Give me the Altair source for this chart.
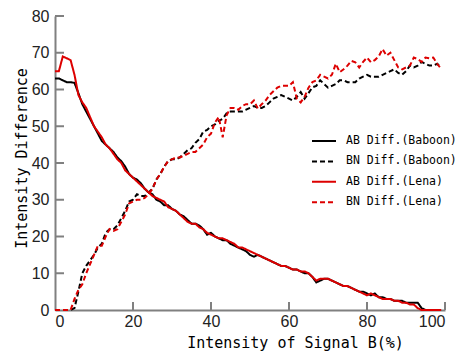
import altair as alt
import pandas as pd

X = list(range(100))

AB_BABOON = [63, 63, 62.5, 62, 62, 61.8, 59, 56, 54, 52,
             50, 48, 46, 45, 44, 43, 41.5, 40.5, 39, 37,
             36, 35.5, 34.5, 33, 32, 31.5, 30, 29.5, 28.5, 28.5,
             27.5, 27, 26, 25.5, 24.5, 23.5, 23.5, 23, 22, 20.5,
             21, 20, 19.5, 19, 19, 18, 17.5, 17, 16.5, 16,
             15, 14.5, 15, 14.5, 14, 13.5, 13, 12.5, 12, 12,
             11.5, 11, 11, 10.5, 10, 10, 9, 7.5, 8, 8.5,
             8.5, 8, 7.5, 7, 6.5, 6.5, 6, 5.5, 5, 5,
             4.5, 4, 4.5, 3.5, 3.5, 3, 3, 2.5, 2.5, 2.5,
             2, 2, 2, 2, 0.5, 0, 0, 0, 0, 0]

BN_BABOON = [0, 0, 0, 0, 0, 0.5, 5, 10, 12, 13.5,
             15, 17, 18, 21, 22, 22, 23, 25, 27, 29.5,
             30, 31.5, 31, 31, 32, 33, 35.5, 37, 39, 40.5,
             41, 41, 41.5, 42.5, 43.5, 44, 45.5, 46.5, 48.5, 49,
             50, 50.5, 51.5, 52, 53.5, 54, 54, 54, 54, 54.5,
             55, 55.5, 55, 55, 55.5, 56.5, 57.5, 58, 58.5, 58,
             57.5, 57, 58, 59.3, 57.5, 59, 60.6, 61, 62.5, 61.5,
             60.5, 61, 61.5, 62.5, 62.5, 62, 62, 62, 63, 63.5,
             64, 63.5, 63.5, 63.5, 64, 64.5, 65, 65.5, 64.5, 64,
             65, 66.5, 66, 66.5, 67.5, 67, 66.5, 66.5, 67, 66]

AB_LENA = [65, 65, 69, 68.5, 68, 64, 58.5, 56.5, 55, 52.5,
           50, 48.5, 47, 45, 44, 42.5, 41, 40, 38, 37,
           36, 35, 34, 33, 32, 31, 30.5, 30, 29.5, 28,
           27.5, 27, 26, 25, 24, 23.5, 23.5, 22.5, 22, 21,
           20.5, 20, 19.5, 19.5, 19, 18.5, 18, 17, 17, 16.5,
           16, 15.5, 15, 14.5, 14, 13.5, 13, 12.5, 12, 12,
           11.5, 11, 11, 10.5, 10.5, 10, 9, 8, 8.5, 8.5,
           8.5, 8, 7.5, 7, 6.5, 6.5, 6, 5.5, 5, 4.5,
           4, 4.5, 4, 3.5, 3, 3, 3, 2.5, 2.5, 2,
           2, 1.5, 1.5, 0.5, 0, 0, 0, 0, 0, 0]

BN_LENA = [0, 0, 0, 0, 0, 3, 5.5, 7, 10, 12.5,
           15, 17.5, 17.5, 20, 22, 21.5, 22, 24, 26, 29,
           29.5, 30, 30, 30.5, 31.5, 33, 35.5, 37, 39, 40.5,
           41, 41.5, 41.5, 42, 42.5, 43, 43, 44, 45, 47,
           48, 51, 52.5, 47, 53, 55, 55, 54.5, 55.5, 56,
           56, 57, 54.8, 56, 57, 58.5, 59.5, 60.5, 61, 61,
           61, 62, 57.5, 56.5, 58, 60.5, 62, 62.5, 64, 63.5,
           63, 64, 67, 64.7, 65.5, 66.5, 67.8, 67.4, 66, 67.5,
           68.7, 67.4, 68, 69, 71, 69.2, 70, 68, 66, 65.5,
           66, 66.5, 68.7, 68.3, 67.5, 68.7, 68.5, 68.7, 67, 65.6]

SERIES = ["AB Diff.(Baboon)", "BN Diff.(Baboon)", "AB Diff.(Lena)", "BN Diff.(Lena)"]
COLORS = ["#000000", "#000000", "#dd0000", "#dd0000"]
DASHES = [[1, 0], [5, 3], [1, 0], [5, 3]]
X_TICKS = [0, 20, 40, 60, 80, 100]
Y_TICKS = [0, 10, 20, 30, 40, 50, 60, 70, 80]

rows = []
for name, vals in zip(SERIES, [AB_BABOON, BN_BABOON, AB_LENA, BN_LENA]):
    for xv, yv in zip(X, vals):
        rows.append({"x": xv, "y": yv, "series": name})
df = pd.DataFrame(rows)

xscale = alt.Scale(domain=[0, 100], nice=False, zero=False)
yscale = alt.Scale(domain=[0, 80], nice=False, zero=False)
AXIS_GRAY = "#808080"

x_axis = alt.Axis(
    values=X_TICKS, title="Intensity of Signal B(%)", grid=False,
    ticks=False, tickSize=0, labelPadding=3, domainColor=AXIS_GRAY, domainWidth=2,
    labelFont="Liberation Sans", labelFontSize=16, labelColor="#222222",
    titleFont="DejaVu Sans Mono", titleFontSize=15, titleFontWeight="normal",
    titleColor="#000000", titleX=240, titleY=37, titleBaseline="alphabetic",
    titleAlign="center")
y_axis = alt.Axis(
    values=Y_TICKS, title="Intensity Difference", grid=False,
    ticks=False, tickSize=0, labelPadding=6, domainColor=AXIS_GRAY, domainWidth=2,
    labelFont="Liberation Sans", labelFontSize=16, labelColor="#222222",
    titleFont="DejaVu Sans Mono", titleFontSize=15, titleFontWeight="normal",
    titleColor="#000000", titleX=-29, titleY=142, titleAngle=270,
    titleBaseline="alphabetic", titleAlign="center")

legend = alt.Legend(
    orient="none", legendX=262, legendY=118, title=None,
    direction="vertical", padding=0,
    symbolType="M-2,0H2", symbolSize=144, symbolStrokeWidth=2,
    labelOffset=15, rowPadding=7.4, labelLimit=300,
    labelFont="DejaVu Sans Mono", labelFontSize=11.5, labelColor="#000000")

lines = alt.Chart(df).mark_line(strokeWidth=2).encode(
    x=alt.X("x:Q", scale=xscale, axis=x_axis),
    y=alt.Y("y:Q", scale=yscale, axis=y_axis),
    color=alt.Color("series:N", scale=alt.Scale(domain=SERIES, range=COLORS), legend=legend),
    strokeDash=alt.StrokeDash("series:N", scale=alt.Scale(domain=SERIES, range=DASHES),
                              legend=legend),
    detail="series:N",
)

ytick_df = pd.DataFrame({"v": Y_TICKS[1:]})
xtick_df = pd.DataFrame({"v": X_TICKS[1:]})

yticks = alt.Chart(ytick_df).mark_rule(color=AXIS_GRAY, strokeWidth=2).encode(
    y=alt.Y("v:Q", scale=yscale, axis=y_axis),
    x=alt.value(0), x2=alt.value(9))
xticks = alt.Chart(xtick_df).mark_rule(color=AXIS_GRAY, strokeWidth=2).encode(
    x=alt.X("v:Q", scale=xscale, axis=x_axis),
    y=alt.value(294), y2=alt.value(286))

chart = alt.layer(lines, yticks, xticks).properties(
    width=390, height=294,
    autosize=alt.AutoSizeParams(type="none"),
    padding={"left": 47, "top": 8, "right": 15, "bottom": 43},
    background="white",
).configure_view(stroke=None)

chart.save("out.html", embed_options={"renderer": "svg", "actions": False})
